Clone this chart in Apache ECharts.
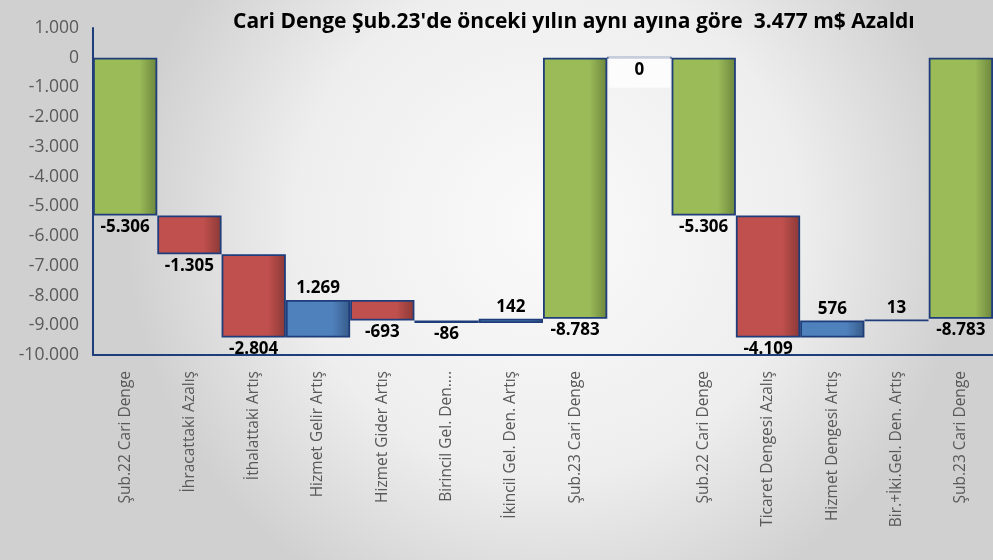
<!DOCTYPE html>
<html>
<head>
<meta charset="utf-8">
<script src="https://cdn.jsdelivr.net/npm/echarts@6/dist/echarts.min.js"></script>
<style>
  html, body { margin: 0; padding: 0; }
  #chart { width: 993px; height: 560px; }
</style>
</head>
<body>
<div id="chart"></div>
<script>
// kategoriler ve degerler (m$)
const categories = [
  'Şub.22 Cari Denge', 'İhracattaki Azalış', 'İthalattaki Artış', 'Hizmet Gelir Artış',
  'Hizmet Gider Artış', 'Birincil Gel. Den....', 'İkincil Gel. Den. Artış', 'Şub.23 Cari Denge',
  '', 'Şub.22 Cari Denge', 'Ticaret Dengesi Azalış', 'Hizmet Dengesi Artış',
  'Bir.+İki.Gel. Den. Artış', 'Şub.23 Cari Denge'
]
const values = [-5306, -1305, -2804, 1269, -693, -86, 142, -8783, 0, -5306, -4109, 576, 13, -8783]
const kinds = ['total', 'delta', 'delta', 'delta', 'delta', 'delta', 'delta', 'total',
  'gap', 'total', 'delta', 'delta', 'delta', 'total']

const titleText = "Cari Denge Şub.23'de önceki yılın aynı ayına göre  3.477 m$ Azaldı"

const fmt = v => {
  const s = String(Math.abs(v)).replace(/\B(?=(\d{3})+(?!\d))/g, '.')
  return v < 0 ? '-' + s : s
}

const grad = (c1, c2) => ({
  type: 'linear', x: 0, y: 0, x2: 1, y2: 0,
  colorStops: [{ offset: 0, color: c1 }, { offset: 0.72, color: c1 }, { offset: 1, color: c2 }]
})
const green = grad('#9bbb59', '#6b853b')
const red = grad('#c0504d', '#8a3937')
const blue = grad('#4f81bd', '#365b88')

// waterfall: gizli taban + gorunen kisim
var level = 0
var baseData = []
var showData = []
values.forEach((v, i) => {
  const k = kinds[i]
  if (k === 'total') {
    baseData.push(0)
    showData.push({
      value: v,
      itemStyle: { color: green },
      label: { position: 'bottom', formatter: fmt(v) }
    })
    level = v
  } else if (k === 'gap') {
    baseData.push(0)
    showData.push({
      value: 0,
      itemStyle: { color: '#ffffff' },
      label: {
        position: 'insideTop', formatter: fmt(v), distance: 0,
        backgroundColor: 'rgba(255,255,255,0.75)', width: 62, height: 26,
        align: 'center', verticalAlign: 'top', padding: [5, 0, 0, 0]
      }
    })
  } else {
    const start = level
    const end = level + v
    baseData.push(Math.max(start, end))
    showData.push({
      value: -Math.abs(v),
      itemStyle: { color: v < 0 ? red : blue },
      label: { position: v < 0 ? 'bottom' : 'top', formatter: fmt(v) }
    })
    level = end
  }
})

var chart = echarts.init(document.getElementById('chart'))
var option = {
  backgroundColor: {
    type: 'radial', x: 0.55, y: 0.4, r: 0.75,
    colorStops: [{ offset: 0, color: '#fafafa' }, { offset: 0.6, color: '#eeeeee' }, { offset: 1, color: '#d0d0d0' }]
  },
  title: {
    text: titleText,
    left: 228,
    top: 7,
    textStyle: { fontFamily: 'Open Sans', fontWeight: 'bold', fontSize: 21, color: '#000' }
  },
  grid: { left: 93, right: 0, top: 28, bottom: 205 },
  xAxis: {
    type: 'category',
    data: categories,
    axisLine: { onZero: false, lineStyle: { color: '#1f3d7a', width: 2 } },
    axisTick: { show: false },
    axisLabel: {
      rotate: 90, interval: 0, margin: 16,
      fontFamily: 'Open Sans', fontSize: 15.5, color: '#595959'
    }
  },
  yAxis: {
    type: 'value',
    min: -10000, max: 1000, interval: 1000,
    axisLine: { show: true, lineStyle: { color: '#1f3d7a', width: 2 } },
    axisTick: { show: false },
    splitLine: { show: false },
    axisLabel: {
      formatter: v => fmt(v), margin: 14,
      fontFamily: 'Open Sans', fontSize: 17.5, color: '#595959'
    }
  },
  series: [
    {
      type: 'bar', stack: 'w', data: baseData,
      itemStyle: { color: 'transparent' },
      barCategoryGap: 0, silent: true
    },
    {
      type: 'bar', stack: 'w', data: showData,
      barCategoryGap: 0,
      itemStyle: { borderColor: '#1f3d7a', borderWidth: 1.8 },
      label: {
        show: true, distance: 3,
        fontFamily: 'Open Sans', fontWeight: 'bold', fontSize: 17, color: '#000'
      }
    }
  ]
}
chart.setOption(option)
</script>
</body>
</html>
